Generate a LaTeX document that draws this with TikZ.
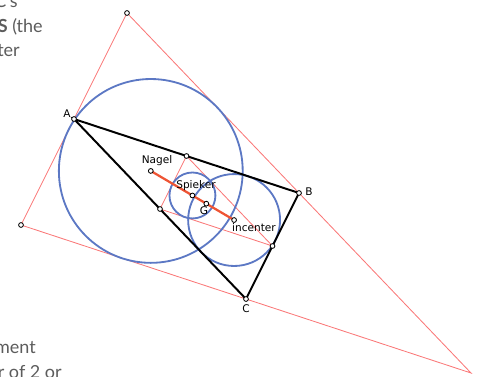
\documentclass[tikz,border=0pt]{standalone}
\usepackage{fontspec}
\setmainfont{DejaVu Sans}
\newfontfamily\pagefont{Lato}
\usetikzlibrary{calc}
\definecolor{antired}{RGB}{250,120,120}
\definecolor{circblue}{RGB}{92,120,196}
\definecolor{nagelred}{RGB}{238,84,52}
\definecolor{pagegray}{RGB}{92,92,92}
\tikzset{
  every picture/.style={font=\fontsize{7.5}{9}\selectfont},
  thinred/.style={draw=antired,line width=0.6pt},
  circ/.style={draw=circblue,line width=1.3pt},
  side/.style={draw=black,line width=1.4pt},
  nagelline/.style={draw=nagelred,line width=1.6pt},
  pt/.style={circle,draw=black,fill=white,line width=0.6pt,inner sep=0pt,minimum size=3.4pt},
  lbl/.style={inner sep=1pt},
  page/.style={font=\pagefont\fontsize{12.8}{15}\selectfont,text=pagegray,inner sep=0pt},
}
\begin{document}
\begin{tikzpicture}[x=0.25mm,y=-0.25mm]
  \useasboundingbox (0,0) rectangle (485,376);
  \clip (0,0) rectangle (485,376);
  % triangle
  \coordinate (A) at (74,119);
  \coordinate (B) at (299,193);
  \coordinate (C) at (246,299);
  % anticomplementary and medial
  \coordinate (Aa) at ($(B)+(C)-(A)$);
  \coordinate (Ba) at ($(A)+(C)-(B)$);
  \coordinate (Ca) at ($(A)+(B)-(C)$);
  \coordinate (Ma) at ($(B)!0.5!(C)$);
  \coordinate (Mb) at ($(C)!0.5!(A)$);
  \coordinate (Mc) at ($(A)!0.5!(B)$);
  % centers
  \coordinate (G) at (barycentric cs:A=1,B=1,C=1);
  \coordinate (I) at (barycentric cs:A=1.18512,B=2.48966,C=2.36856);
  \coordinate (N) at (barycentric cs:A=1.83655,B=0.53201,C=0.65311);
  \coordinate (S) at ($(N)!0.5!(I)$);
  % page text
  \node[page,anchor=base east] (txtA) at (18,8) {C’s};
  \node[page,anchor=base east] (txtB) at (43,33) {\textbf{S} (the};
  \node[page,anchor=base east] (txtC) at (20,57) {ter};
  \node[page,anchor=base east] (txtD) at (36,353) {ment};
  \node[page,anchor=base east] (txtE) at (62,378) {r of 2 or};
  % red
  \draw[thinred] (Aa) -- (Ba) -- (Ca) -- cycle;
  \draw[thinred] (Ma) -- (Mb) -- (Mc) -- cycle;
  % circles
  \draw[circ] (N) circle[radius=91.91];
  \draw[circ] (I) circle[radius=45.955];
  \draw[circ] (S) circle[radius=22.98];
  % black
  \draw[side] (A) -- (B) -- (C) -- cycle;
  \draw[nagelline] (N) -- (I);
  % points
  \foreach \p in {A,B,C,Ba,Ca,Ma,Mb,Mc,N,S,G,I}
    \node[pt] (pt\p) at (\p) {};
  % labels
  \node[lbl] (labA) at (67,114) {A};
  \node[lbl] (labB) at (309,192) {B};
  \node[lbl] (labC) at (246,309) {C};
  \node[lbl] (labN) at (157,161) {Nagel};
  \node[lbl] (labS) at (196,186) {Spieker};
  \node[lbl] (labG) at (204,211) {G};
  \node[lbl] (labI) at (254,228) {incenter};
\end{tikzpicture}
\end{document}
